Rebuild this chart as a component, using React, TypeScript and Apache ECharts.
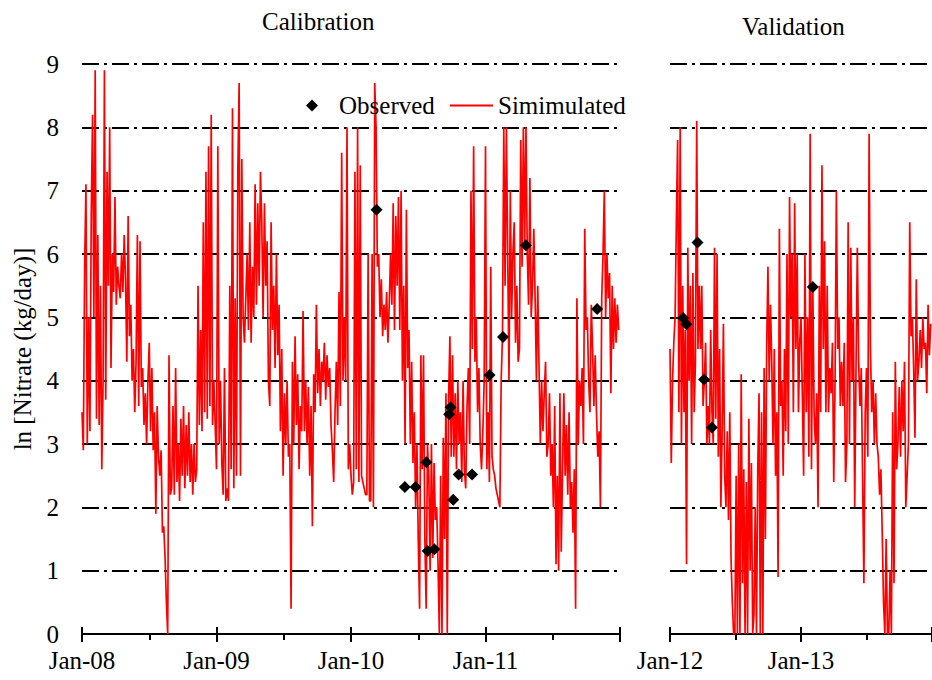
import React, { useEffect, useRef } from 'react';
import * as echarts from 'echarts';

const FONT = 'Liberation Serif';

// Simulated ln(nitrate) series, one array per year (evenly spaced within the year)
const sim2008 = [3.5, 2.9, 5.8, 7.1, 3.0, 5.0, 3.2,
  6.6, 8.2, 5.0, 8.9, 3.4,
  6.3, 3.3, 5.5, 2.6, 4.0,
  8.9, 3.7, 7.3, 5.5, 8.0,
  4.2, 6.0, 5.4, 6.9, 5.2, 5.8, 5.5, 5.3, 6.0, 5.4, 6.3, 5.6,
  4.3, 6.6, 4.7, 5.2, 4.0, 4.5, 3.5, 4.3,
  6.3, 3.6, 6.2, 3.9, 4.2, 3.3, 3.8, 3.0, 4.0,
  4.6, 3.2, 4.2, 2.9, 3.5, 1.9, 3.6, 2.8,
  2.5, 2.9, 1.6, 1.7, 1.2, 0.5, 0.0,
  4.4, 2.2, 2.3, 3.6, 2.2, 4.2, 2.4,
  3.0, 2.1, 3.4, 2.5, 3.6, 2.3, 3.3, 2.5, 3.5, 2.4, 3.0,
  2.2, 3.0, 2.4, 2.6,
  5.5, 3.3, 4.8, 3.2, 6.5, 3.5, 7.3, 3.4, 7.7, 3.6,
  8.2, 3.3, 4.0, 3.3];
const sim2009 = [2.6, 7.7, 3.0, 4.0, 2.7,
  2.2, 4.2, 2.1, 2.3, 2.1, 5.5,
  2.6, 8.3, 2.3, 5.3, 2.5, 7.3,
  8.7, 2.5, 7.5, 5.0, 4.6,
  5.3, 6.0, 4.8, 6.5, 4.6, 5.8, 5.0, 7.1,
  5.2, 6.8, 5.5, 7.3, 6.5, 5.0, 6.8, 5.5, 6.2, 4.0,
  3.6, 6.5, 4.8, 5.5, 4.2, 6.0, 4.4, 5.2, 3.2, 4.5,
  2.5, 3.8, 3.0, 4.0, 2.8, 3.0, 0.4, 4.3,
  3.0, 4.7, 3.3, 4.1, 2.6, 3.6, 3.2,
  5.1, 3.2, 4.0, 3.0, 3.9, 2.5, 3.6, 1.7, 4.1, 3.5,
  5.2, 3.8, 4.5, 3.6, 4.3, 4.0, 4.6, 3.7, 4.4, 3.9, 4.2,
  3.3, 2.9, 2.4, 3.5,
  4.3, 3.3, 5.4, 3.6, 7.6, 4.0,
  5.0, 4.0, 8.0, 2.6, 3.0];
const sim2010 = [2.5, 2.2, 2.4,
  7.3, 2.6, 8.0, 2.4, 7.4,
  2.5, 2.4, 2.3, 2.2, 2.2, 6.0, 2.1, 2.1, 6.0, 2.0,
  8.7, 8.0, 5.8, 6.0,
  5.0, 5.6, 4.7, 5.2, 4.8, 5.4, 4.6, 5.2,
  6.0, 5.2, 6.8, 4.8, 6.6, 5.5, 6.9, 4.8, 7.0, 4.0,
  5.5, 3.0, 6.7, 4.2, 4.8, 3.0, 4.3, 2.7, 3.5,
  2.0, 3.0, 1.5, 0.4, 4.4,
  2.6, 4.4, 1.5, 0.4, 3.0,
  2.5, 1.0, 3.0, 1.2, 2.7, 1.8,
  2.0, 1.1, 0.0, 2.5, 0.0, 3.1, 1.5, 3.8,
  0.0, 3.7, 4.7, 2.8, 4.4,
  2.8, 3.8, 2.6, 4.0, 3.0, 3.5, 2.4, 4.0,
  2.6, 2.3, 3.6, 4.2, 3.0,
  7.0, 4.5, 7.7, 4.3, 5.0,
  3.5, 4.2, 3.0, 2.6, 3.2, 4.0];
const sim2011 = [7.7, 2.6, 3.5, 2.4, 5.8,
  2.8, 2.6, 2.5, 2.3, 2.2, 2.1, 2.0,
  4.0, 4.7, 8.0, 5.5, 8.0, 6.0,
  4.0, 7.0, 5.0, 6.0, 6.5, 4.6,
  5.5, 4.3, 4.5, 7.8,
  5.8, 8.0, 6.2, 8.0, 6.0, 5.2,
  7.2, 5.0, 5.5, 6.4, 5.3, 4.0, 5.5, 4.2, 3.0,
  4.0, 3.2, 3.8, 4.3, 2.8, 3.0, 3.8, 2.5, 3.0, 2.0,
  3.6, 1.1, 2.5, 1.0, 3.8, 1.3, 2.6, 3.8,
  2.5, 3.3, 2.2, 3.5, 2.0, 2.4, 1.6, 2.6, 0.4, 5.3,
  3.0, 4.0, 3.6, 4.2, 3.0, 6.4, 4.8, 5.0, 4.0, 3.5,
  5.2, 4.5, 3.6, 4.4, 3.5, 2.8, 3.2, 2.0, 5.3,
  6.0, 7.0, 5.0, 6.0, 5.3,
  5.7, 3.8, 5.5, 4.5, 5.3, 4.6, 5.2, 4.8];
const sim2012 = [4.5, 2.7, 4.0,
  4.6, 5.0, 6.5, 7.8, 3.5, 8.0,
  3.0, 5.5, 3.5, 4.8,
  1.1, 6.1, 4.0, 5.5,
  3.0, 5.7, 3.5, 4.3,
  8.1, 4.5, 5.5,
  4.5, 5.5, 3.6, 4.0, 4.6,
  3.0, 3.6, 3.0, 4.8, 3.5,
  3.0, 6.1, 3.4, 6.0, 2.8,
  4.5, 2.0, 3.2, 4.9, 2.5,
  2.0, 3.2, 1.8, 3.5, 1.2,
  0.5, 0.0, 0.0, 2.5, 0.0,
  3.0, 0.0, 4.1, 0.8, 2.6,
  0.0, 2.4, 0.0, 3.4, 1.0,
  2.7, 0.0, 0.3, 2.0, 0.0, 2.6,
  3.8, 0.0, 3.5, 0.0, 4.2, 1.5,
  4.5, 5.8, 4.0, 5.2, 4.3,
  3.0, 4.5, 2.5, 3.5, 0.9, 6.4,
  3.6, 4.0, 2.5, 4.5, 3.2, 6.0,
  3.0, 6.9, 5.0, 6.0, 3.5, 6.8, 4.5, 6.0, 3.5, 4.6];
const sim2013 = [5.0, 3.8, 2.5, 6.0, 3.5,
  5.0, 2.8, 7.9, 2.6, 5.5, 3.5,
  3.0, 3.8, 2.0, 5.5, 3.5,
  7.4, 4.5, 6.2, 3.5,
  5.5, 3.5, 4.2, 3.8, 4.6, 2.4,
  4.0, 7.0, 4.5, 5.0, 3.6,
  4.3, 3.6, 4.6, 2.4, 3.0, 6.5,
  3.0, 6.1, 4.0, 5.0, 2.0, 4.2,
  6.1, 4.3, 3.6, 4.2, 2.5, 0.8, 3.5,
  4.2, 2.8, 7.9, 4.5,
  3.5, 4.0, 3.0, 3.8, 3.0,
  2.8, 2.2, 2.6, 1.6, 0.5, 0.0,
  1.5, 0.0, 0.0, 1.0, 0.0,
  3.5, 0.8, 4.3, 2.6, 3.0,
  3.9, 2.8, 4.0, 3.2, 4.3, 2.0, 2.5,
  3.0, 6.5, 4.7, 5.0, 4.2,
  3.1, 5.6, 4.0, 4.3, 4.8,
  4.2, 5.0, 4.5, 4.6, 3.8, 5.2, 4.4, 4.9];

const calYears = [2008, 2009, 2010, 2011];
const calSim = [sim2008, sim2009, sim2010, sim2011];
const valYears = [2012, 2013];
const valSim = [sim2012, sim2013];

// Observed (decimal year, ln value)
const obsCalDates = [2010.19, 2010.40, 2010.48, 2010.56, 2010.57, 2010.62, 2010.73, 2010.74, 2010.76, 2010.80, 2010.90, 2011.03, 2011.13, 2011.30, 2011.83];
const obsCalValues = [6.70, 2.32, 2.32, 2.71, 1.31, 1.34, 3.47, 3.58, 2.12, 2.52, 2.52, 4.09, 4.69, 6.14, 5.13];
const obsValDates = [2012.10, 2012.125, 2012.21, 2012.26, 2012.32, 2013.09];
const obsValValues = [4.99, 4.89, 6.18, 4.02, 3.26, 5.48];

const buildSeries = (years: number[], arrs: number[][]) => {
  const out: number[][] = [];
  years.forEach((y, k) => {
    const a = arrs[k];
    a.forEach((v, i) => out.push([y + i / a.length, v]));
  });
  return out;
};

const fmtYear = (v: number) => 'Jan-' + String(Math.round(v)).slice(2);

const gridLine = { show: true, lineStyle: { color: '#000', width: 2, type: [17, 5, 3, 5] } };
const txt = { fontFamily: FONT, fontSize: 25, color: '#000' };

const makeX = (gridIndex: number, min: number, max: number, labels: boolean) => ([
  {
    type: 'value', gridIndex, min, max, interval: 1, position: 'bottom',
    axisLine: { show: true, onZero: false, lineStyle: { color: '#000', width: 2 } },
    axisTick: { show: true, length: 8, lineStyle: { color: '#000', width: 2 } },
    minorTick: { show: true, splitNumber: 2, length: 6, lineStyle: { color: '#000', width: 2 } },
    axisLabel: { show: labels, ...txt, margin: 14, formatter: fmtYear, showMaxLabel: false },
    splitLine: { show: false },
  },
  {
    type: 'value', gridIndex, min, max, interval: 1, position: 'bottom',
    axisLine: { show: false },
    axisTick: { show: true, inside: true, length: 7, lineStyle: { color: '#000', width: 2 } },
    axisLabel: { show: false },
    splitLine: { show: false },
  },
]);

export default function App() {
  const ref = useRef<HTMLDivElement>(null);
  useEffect(() => {
    if (!ref.current) return;
    const chart = echarts.init(ref.current, null, { renderer: 'svg' });
    const calData = buildSeries(calYears, calSim);
    const valData = buildSeries(valYears, valSim);
    const obsCal = obsCalDates.map((d, i) => [d, obsCalValues[i]]);
    const obsVal = obsValDates.map((d, i) => [d, obsValValues[i]]);
    chart.setOption({
      animation: false,
      backgroundColor: '#fff',
      title: [
        { text: 'Calibration', left: 262, top: 9, padding: 0, textStyle: { ...txt, fontWeight: 'normal' } },
        { text: 'Validation', left: 742, top: 14, padding: 0, textStyle: { ...txt, fontWeight: 'normal' } },
      ],
      legend: [
        {
          data: ['Observed'], left: 306, top: 93, padding: 0,
          itemWidth: 12, itemHeight: 12,
          textStyle: { ...txt, padding: [0, 0, 0, 16] },
        },
        {
          data: [{ name: 'Simimulated', icon: 'rect' }], left: 450, top: 93, padding: 0,
          itemWidth: 43, itemHeight: 2,
          textStyle: { ...txt },
        },
      ],
      grid: [
        { left: 82, right: 312, top: 64, bottom: 46 },
        { left: 670, right: -11, top: 64, bottom: 46 },
      ],
      xAxis: [...makeX(0, 2008, 2012, true), ...makeX(1, 2012, 2014, true)],
      yAxis: [
        {
          type: 'value', gridIndex: 0, min: 0, max: 9, interval: 1,
          axisLine: { show: false }, axisTick: { show: false },
          axisLabel: { ...txt, margin: 23 },
          splitLine: gridLine,
          name: 'ln [Nitrate (kg/day)]', nameLocation: 'middle', nameGap: 47,
          nameTextStyle: { ...txt },
        },
        {
          type: 'value', gridIndex: 1, min: 0, max: 9, interval: 1,
          axisLine: { show: false }, axisTick: { show: false },
          axisLabel: { show: false },
          splitLine: gridLine,
        },
      ],
      series: [
        {
          name: 'Simimulated', type: 'line', xAxisIndex: 0, yAxisIndex: 0,
          data: calData, symbol: 'none', lineStyle: { color: '#ff0000', width: 1.7 },
          itemStyle: { color: '#ff0000' },
        },
        {
          name: 'Simimulated', type: 'line', xAxisIndex: 2, yAxisIndex: 1,
          data: valData, symbol: 'none', lineStyle: { color: '#ff0000', width: 1.7 },
          itemStyle: { color: '#ff0000' },
        },
        {
          name: 'Observed', type: 'scatter', xAxisIndex: 0, yAxisIndex: 0,
          data: obsCal, symbol: 'diamond', symbolSize: 12, itemStyle: { color: '#000', opacity: 1 }, z: 5,
        },
        {
          name: 'Observed', type: 'scatter', xAxisIndex: 2, yAxisIndex: 1,
          data: obsVal, symbol: 'diamond', symbolSize: 12, itemStyle: { color: '#000', opacity: 1 }, z: 5,
        },
      ],
    });
    return () => chart.dispose();
  }, []);
  return <div ref={ref} style={{ position: 'absolute', left: 0, top: 0, width: 932, height: 680 }} />;
}
